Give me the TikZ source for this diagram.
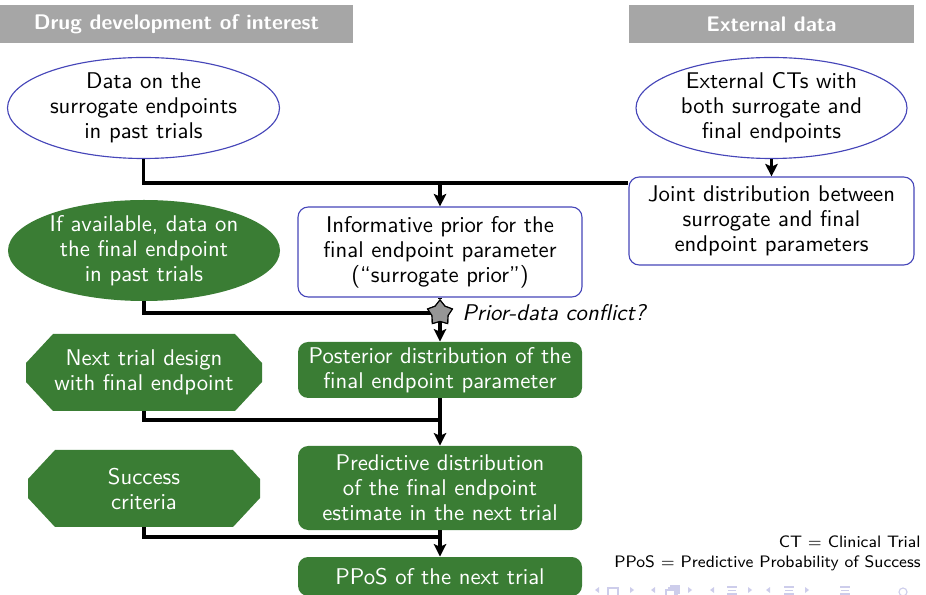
\documentclass[tikz,border=0pt]{standalone}
\usetikzlibrary{shapes.geometric,arrows.meta,calc}

\definecolor{hdrgray}{RGB}{166,166,166}
\definecolor{boxblue}{RGB}{70,70,185}
\definecolor{boxgreen}{RGB}{58,125,52}
\definecolor{stargray}{RGB}{150,150,150}
\definecolor{navcol}{RGB}{205,205,235}

% one drawing unit
\newdimen\pxu \pxu=0.44pt

\tikzset{
  basefont/.style={font=\sffamily\fontsize{10}{11}\selectfont},
  hdr/.style={rectangle, fill=hdrgray, text=white, inner sep=0pt,
    minimum height=38*\pxu, font=\sffamily\bfseries\fontsize{9.3}{11}\selectfont},
  extsrc/.style={ellipse, draw=boxblue, line width=0.5pt, fill=white, basefont,
    align=center, inner sep=0pt, minimum width=272*\pxu, minimum height=101*\pxu},
  insrc/.style={ellipse, fill=boxgreen, text=white, basefont,
    align=center, inner sep=0pt, minimum width=272*\pxu, minimum height=101*\pxu},
  infobox/.style={rectangle, rounded corners=4.5pt, draw=boxblue, line width=0.5pt,
    fill=white, basefont, align=center, inner sep=0pt},
  stepbox/.style={rectangle, rounded corners=4.5pt, fill=boxgreen, text=white,
    basefont, align=center, inner sep=0pt, minimum width=284*\pxu},
  design/.style={rectangle, inner sep=0pt, text=white, basefont, align=center,
    path picture={
      \fill[boxgreen]
        ($(path picture bounding box.north west)+(27,0)$) --
        ($(path picture bounding box.north east)+(-27,0)$) --
        ($(path picture bounding box.north east)+(0,29)$) --
        ($(path picture bounding box.south east)+(0,-29)$) --
        ($(path picture bounding box.south east)+(-27,0)$) --
        ($(path picture bounding box.south west)+(27,0)$) --
        ($(path picture bounding box.south west)+(0,-29)$) --
        ($(path picture bounding box.north west)+(0,29)$) -- cycle;}},
  conflict/.style={star, star points=5, star point ratio=1.55, draw=black,
    fill=stargray, line width=0.5pt, inner sep=0pt, minimum size=26*\pxu},
  link/.style={line width=1.4pt},
  flow/.style={line width=1.4pt, -{Stealth[length=5.5pt,width=5.5pt,inset=1.2pt]}},
  navsym/.style={draw=navcol, line width=0.5pt},
}

\begin{document}
\begin{tikzpicture}[x=0.44pt,y=-0.44pt]
\useasboundingbox (0,0) rectangle (926,595);

% column headers
\node[hdr, minimum width=353*\pxu] (hdrL) at (176.5,24) {Drug development of interest};
\node[hdr, minimum width=285*\pxu] (hdrR) at (771.5,24) {External data};

% sources of information
\node[extsrc] (srg) at (143.5,108) {Data on the\\surrogate endpoints\\in past trials};
\node[extsrc, minimum width=271*\pxu] (ext) at (771.5,108) {External CTs with\\both surrogate and\\final endpoints};
\node[infobox, minimum width=285*\pxu, minimum height=88*\pxu] (joint) at (771.5,221)
  {Joint distribution between\\surrogate and final\\endpoint parameters};
\node[infobox, minimum width=284*\pxu, minimum height=90*\pxu] (prior) at (440,252)
  {Informative prior for the\\final endpoint parameter\\(“surrogate prior”)};
\node[insrc] (fin) at (144,250.5) {If available, data on\\the final endpoint\\in past trials};

% conflict check
\node[conflict] (conf) at (440,313) {};
\node[basefont, anchor=west, inner sep=0pt] (conflbl) at (462,313) {\itshape Prior-data conflict?};

% analysis chain
\node[stepbox, minimum height=56*\pxu] (post) at (440,370)
  {Posterior distribution of the\\final endpoint parameter};
\node[design, minimum width=236*\pxu, minimum height=77*\pxu] (next) at (144,372.5)
  {Next trial design\\with final endpoint};
\node[stepbox, minimum height=84*\pxu] (pred) at (440,488)
  {Predictive distribution\\of the final endpoint\\estimate in the next trial};
\node[design, minimum width=232*\pxu, minimum height=77*\pxu] (succ) at (144,488.5)
  {Success\\criteria};
\node[stepbox, minimum height=39*\pxu] (ppos) at (440,576.5) {PPoS of the next trial};

% abbreviations
\node[anchor=east, align=right, inner sep=0pt, font=\sffamily\fontsize{7.3}{8.8}\selectfont]
  (abbr) at (921,553) {CT $=$ Clinical Trial\\PPoS $=$ Predictive Probability of Success};

% connectors
\coordinate (busA) at (0,183);
\coordinate (busB) at (0,420);
\coordinate (busC) at (0,537);
\draw[link] (srg.south) |- (joint.west |- busA);
\draw[flow] (prior.north |- busA) -- (prior.north);
\draw[flow] (ext.south) -- (joint.north);
\draw[link] (fin.south) |- (conf.center);
\draw[link] (prior.south) -- (conf.north);
\draw[flow] (conf.south) -- (post.north);
\draw[link] (next.south) |- (post.south |- busB);
\draw[flow] (post.south) -- (pred.north);
\draw[link] (succ.south) |- (pred.south |- busC);
\draw[flow] (pred.south) -- (ppos.north);
% redraw the star on top of the joining lines
\node[conflict] at (conf) {};

% navigation symbols
\begin{scope}[navsym]
  \foreach \x in {597,653,712,768} \fill[navcol] (\x-2,590) -- (\x+2,587) -- (\x+2,593) -- cycle;
  \foreach \x in {632,690,750,807} \fill[navcol] (\x+2,590) -- (\x-2,587) -- (\x-2,593) -- cycle;
  \draw (608,588) rectangle (618,597);
  \draw (666,590) rectangle (675,598);
  \draw (668,588) -- (677,588) -- (677,596);
  \draw (670,586) -- (679,586) -- (679,594);
  \foreach \x in {732,789,845} {
    \draw (\x-5,587) -- (\x+5,587);
    \draw (\x-4,590.5) -- (\x+4,590.5);
    \draw (\x-5,594) -- (\x+5,594);
  }
  \draw (880,596) arc[start angle=180, end angle=20, radius=5];
  \draw (903,592) circle[radius=4];
  \draw (915,596) arc[start angle=180, end angle=20, radius=5];
\end{scope}
\end{tikzpicture}
\end{document}
